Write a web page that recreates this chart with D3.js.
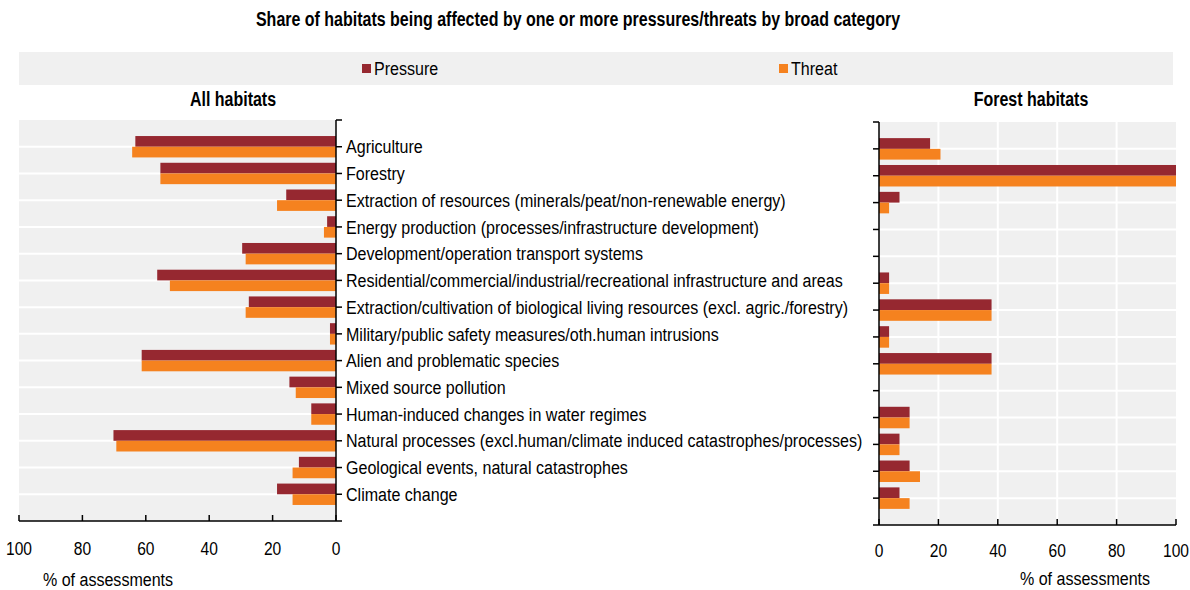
<!DOCTYPE html>
<html><head><meta charset="utf-8">
<script src="https://cdn.jsdelivr.net/npm/d3@7"></script>
<style>
html,body{margin:0;padding:0;background:#fff;}
svg{display:block;font-family:"Liberation Sans Narrow","Arial Narrow","Liberation Sans",Arial,sans-serif;}
</style></head>
<body>
<svg id="c" width="1190" height="590"></svg>
<script>
const categories = [
  "Agriculture",
  "Forestry",
  "Extraction of resources (minerals/peat/non-renewable energy)",
  "Energy production (processes/infrastructure development)",
  "Development/operation transport systems",
  "Residential/commercial/industrial/recreational infrastructure and areas",
  "Extraction/cultivation of biological living resources (excl. agric./forestry)",
  "Military/public safety measures/oth.human intrusions",
  "Alien and problematic species",
  "Mixed source pollution",
  "Human-induced changes in water regimes",
  "Natural processes (excl.human/climate induced catastrophes/processes)",
  "Geological events, natural catastrophes",
  "Climate change"
];
const allPressure = [63.3, 55.4, 15.7, 2.8, 29.6, 56.4, 27.5, 1.9, 61.3, 14.7, 7.8, 70.2, 11.7, 18.6];
const allThreat   = [64.3, 55.4, 18.6, 3.8, 28.5, 52.4, 28.5, 1.9, 61.3, 12.7, 7.8, 69.3, 13.7, 13.7];
const forestPressure = [17.2, 100, 6.9, 0, 0, 3.4, 37.9, 3.4, 37.9, 0, 10.3, 6.9, 10.3, 6.9];
const forestThreat   = [20.7, 100, 3.4, 0, 0, 3.4, 37.9, 3.4, 37.9, 0, 10.3, 6.9, 13.8, 10.3];
const xTicks = [0, 20, 40, 60, 80, 100];
const seriesNames = ["Pressure", "Threat"];
const titleText = "Share of habitats being affected by one or more pressures/threats by broad category";
const panelTitles = ["All habitats", "Forest habitats"];
const axisTitle = "% of assessments";

const colors = {Pressure: "#962830", Threat: "#F5821F"};
const svg = d3.select("#c");
const FONT = 19;
const BFONT = 19.5;
const SX = 0.82;   // narrow font emulation
const SXL = 0.845; // category labels

function tr(x, y, s) { return `translate(${x},${y}) scale(${s || SX},1)`; }

svg.append("text").attr("transform", tr(578, 26)).attr("text-anchor", "middle")
  .attr("font-weight", "bold").attr("font-size", BFONT).attr("fill", "#000").text(titleText);

svg.append("rect").attr("x", 19).attr("y", 52).attr("width", 1154).attr("height", 33).attr("fill", "#F0F0F0");
const legX = [362, 779];
seriesNames.forEach((s, i) => {
  svg.append("rect").attr("x", legX[i]).attr("y", 64).attr("width", 9).attr("height", 9).attr("fill", colors[s]);
  svg.append("text").attr("transform", tr(legX[i] + 12, 75, SXL)).attr("font-size", FONT).attr("fill", "#000").text(s);
});

function panel(opts) {
  const {x0, x1, yTop, yBot, reversed, pVals, tVals, title, titleX, vgrid, labels, tickLabelY, axisTitleX, axisTitleY} = opts;
  const g = svg.append("g");
  const x = d3.scaleLinear().domain([0, 100]).range(reversed ? [x1, x0] : [x0, x1]);
  const step = (yBot - yTop) / (categories.length + 1);
  const y = d3.scalePoint().domain(categories).range([yTop + step, yBot - step]);
  const bh = step * 0.4;

  g.append("rect").attr("x", x0).attr("y", yTop).attr("width", x1 - x0).attr("height", yBot - yTop).attr("fill", "#F0F0F0");
  g.selectAll(".hg").data(categories).join("line")
    .attr("x1", x0).attr("x2", x1).attr("y1", d => y(d)).attr("y2", d => y(d))
    .attr("stroke", "#fff").attr("stroke-width", 2);
  if (vgrid) {
    g.selectAll(".vg").data(xTicks.filter(t => t > 0 && t < 100)).join("line")
      .attr("x1", d => x(d)).attr("x2", d => x(d)).attr("y1", yTop).attr("y2", yBot)
      .attr("stroke", "#fff").attr("stroke-width", 2);
  }
  const zero = x(0);
  g.selectAll(".bp").data(categories).join("rect")
    .attr("x", (d, i) => Math.min(zero, x(pVals[i])))
    .attr("width", (d, i) => Math.abs(x(pVals[i]) - zero))
    .attr("y", d => y(d) - bh).attr("height", bh).attr("fill", colors.Pressure);
  g.selectAll(".bt").data(categories).join("rect")
    .attr("x", (d, i) => Math.min(zero, x(tVals[i])))
    .attr("width", (d, i) => Math.abs(x(tVals[i]) - zero))
    .attr("y", d => y(d)).attr("height", bh).attr("fill", colors.Threat);

  const yTickPos = [yTop].concat(categories.map(c => y(c))).concat([yBot]);
  g.append("line").attr("x1", zero).attr("x2", zero).attr("y1", yTop).attr("y2", yBot).attr("stroke", "#000").attr("stroke-width", 1.5);
  const dir = reversed ? 1 : -1;
  g.selectAll(".yt").data(yTickPos).join("line")
    .attr("x1", zero).attr("x2", zero + dir * 6).attr("y1", d => d).attr("y2", d => d)
    .attr("stroke", "#000").attr("stroke-width", 1.5);
  if (labels) {
    g.selectAll(".yl").data(categories).join("text")
      .attr("transform", d => tr(zero + 10, y(d), SXL)).attr("dy", "0.35em")
      .attr("font-size", FONT).attr("fill", "#000").text(d => d);
  }
  g.append("line").attr("x1", x0).attr("x2", x1).attr("y1", yBot).attr("y2", yBot).attr("stroke", "#000").attr("stroke-width", 1.5);
  g.selectAll(".xt").data(xTicks).join("line")
    .attr("x1", d => x(d)).attr("x2", d => x(d)).attr("y1", yBot).attr("y2", yBot - 6)
    .attr("stroke", "#000").attr("stroke-width", 1.5);
  g.selectAll(".xl").data(xTicks).join("text")
    .attr("transform", d => tr(x(d), tickLabelY)).attr("text-anchor", "middle")
    .attr("font-size", FONT).attr("fill", "#000").text(d => d);
  g.append("text").attr("transform", tr(titleX, 106)).attr("text-anchor", "middle")
    .attr("font-weight", "bold").attr("font-size", BFONT).attr("fill", "#000").text(title);
  g.append("text").attr("transform", tr(axisTitleX, axisTitleY, SXL)).attr("text-anchor", "middle")
    .attr("font-size", FONT).attr("fill", "#000").text(axisTitle);
}

panel({x0: 19, x1: 336, yTop: 120, yBot: 521, reversed: true, pVals: allPressure, tVals: allThreat,
  title: panelTitles[0], titleX: 233, vgrid: false, labels: true, tickLabelY: 555, axisTitleX: 108, axisTitleY: 586});
panel({x0: 879, x1: 1176, yTop: 122, yBot: 525, reversed: false, pVals: forestPressure, tVals: forestThreat,
  title: panelTitles[1], titleX: 1031, vgrid: true, labels: false, tickLabelY: 557, axisTitleX: 1085, axisTitleY: 585});
</script>
</body></html>
